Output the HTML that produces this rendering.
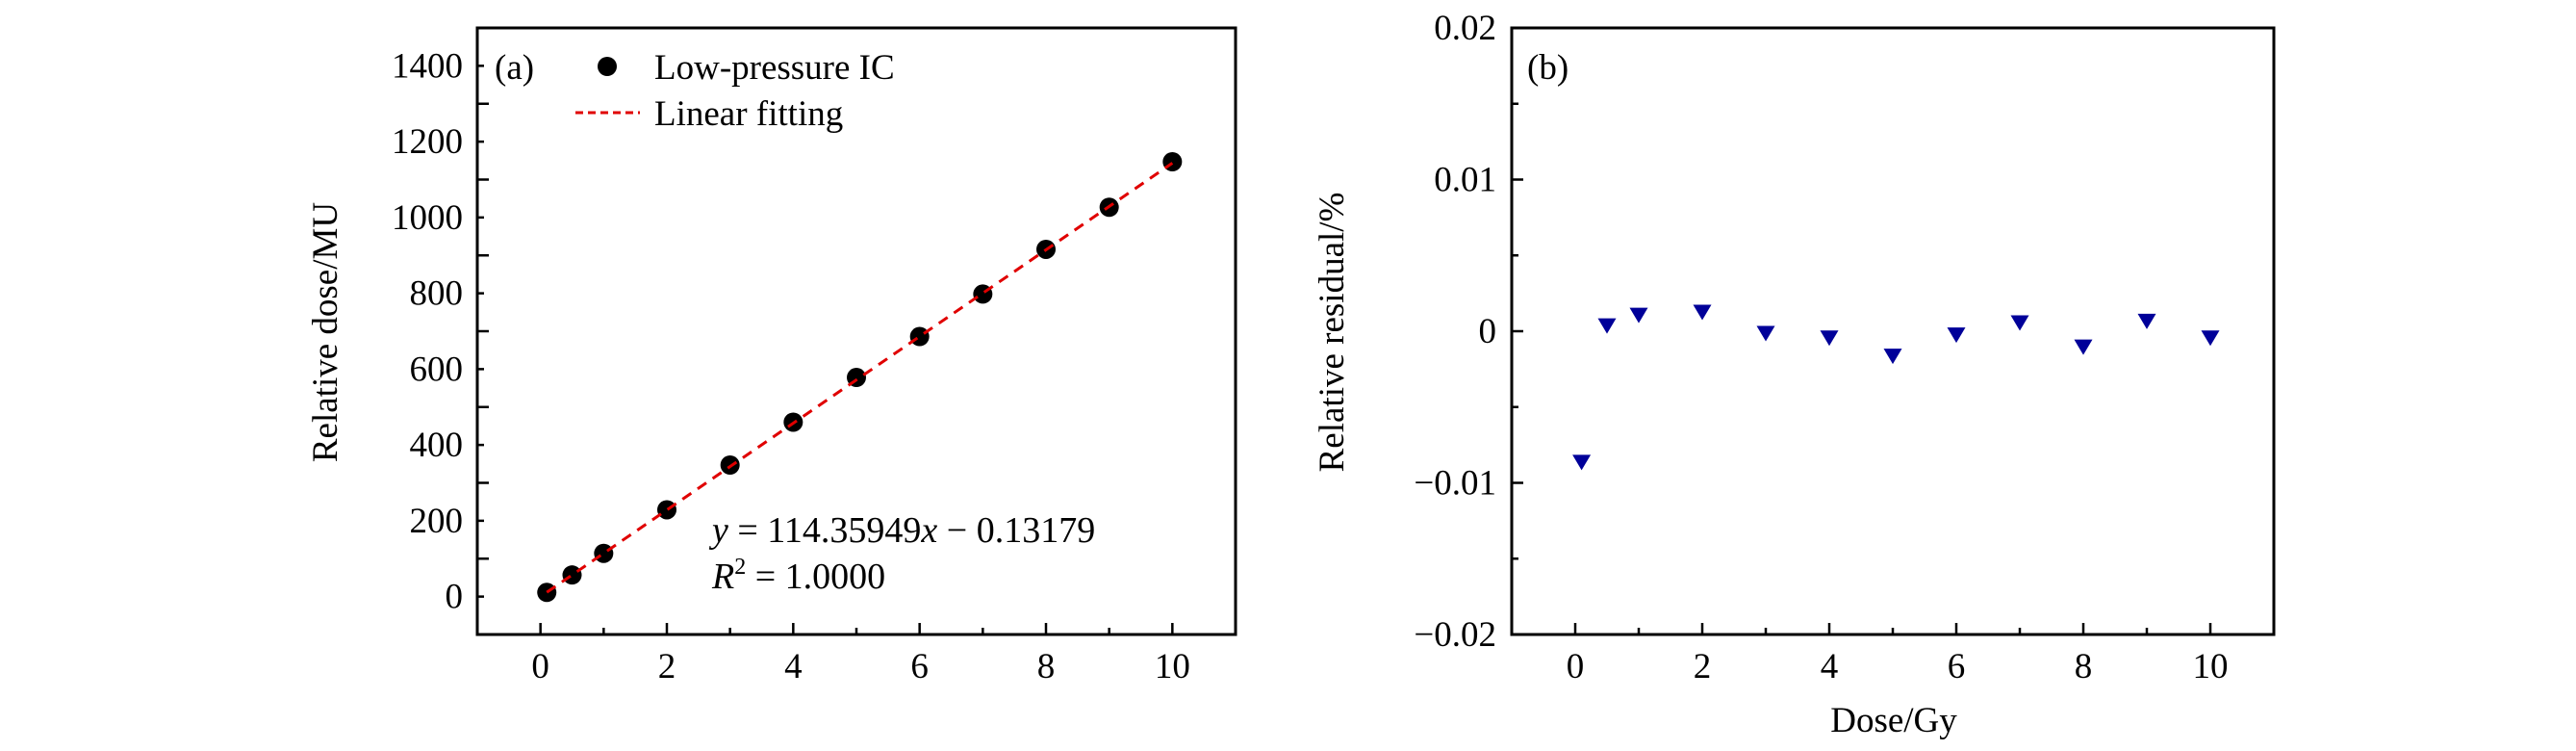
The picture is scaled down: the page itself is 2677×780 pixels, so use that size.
<!DOCTYPE html>
<html><head><meta charset="utf-8"><style>
html,body{margin:0;padding:0;background:#fff;}
svg{display:block;}
text{font-family:"Liberation Serif",serif;fill:#000;}
</style></head><body>
<svg id="chart" width="2677" height="780" viewBox="0 0 2677 780" xmlns="http://www.w3.org/2000/svg">
<g id="pa"></g>
<g id="pb"></g>
</svg>
<script>
const doseX = [0.1,0.5,1,2,3,4,5,6,7,8,9,10];
const relDose = [11,57,114,229,347,460,578,686,798,916,1027,1147];
const residual = [-0.0085,0.0005,0.0012,0.0014,0.0000,-0.0003,-0.0015,-0.0001,0.0007,-0.0009,0.0008,-0.0003];
const fitSlope = 114.35949;
const fitIntercept = -0.13179;
const xTicks = [0,2,4,6,8,10];
const aYTicks = [0,200,400,600,800,1000,1200,1400];
const bYTicks = [-0.02,-0.01,0,0.01,0.02];
const bYLabels = ["\u22120.02","\u22120.01","0","0.01","0.02"];

const NS="http://www.w3.org/2000/svg";
function mk(parent,tag,attrs,txt){const e=document.createElementNS(NS,tag);for(const k in attrs)e.setAttribute(k,attrs[k]);if(txt!==undefined)e.textContent=txt;parent.appendChild(e);return e;}

const yTop=29,yBot=659;
const FS=37;
function xA(v){return 496+(v+1)*(1284-496)/12;}
function yA(v){return yBot-(v+100)*(yBot-yTop)/1600;}
function xB(v){return 1571+(v+1)*(2363-1571)/12;}
function yB(v){return yBot-(v+0.02)*(yBot-yTop)/0.04;}

function axes(g,x0,x1,xs,ys,yTicksMaj,yMinStep,yMin,yMax,yLabels,labelRight){
  let e=mk(g,'rect',{x:x0,y:yTop,width:x1-x0,height:yBot-yTop,fill:'none',stroke:'#000','stroke-width':3});
  
  for(let v=0;v<=10;v++){
    const maj=v%2===0;
    e=mk(g,'line',{x1:xs(v),x2:xs(v),y1:yBot,y2:yBot-(maj?12:7),stroke:'#000','stroke-width':2.5});
    
  }
  xTicks.forEach(v=>{e=mk(g,'text',{x:xs(v),y:704,'font-size':FS,'text-anchor':'middle'},String(v));
    });
  const n=Math.round((yMax-yMin)/yMinStep);
  for(let i=0;i<=n;i++){
    const v=yMin+i*yMinStep;const maj=i%2===0;
    e=mk(g,'line',{x1:x0,x2:x0+(maj?12:7),y1:ys(v),y2:ys(v),stroke:'#000','stroke-width':2.5});
    
  }
  yTicksMaj.forEach((v,i)=>{e=mk(g,'text',{x:labelRight,y:ys(v)+12,'font-size':FS,'text-anchor':'end'},yLabels[i]);
    });
}

const ga=document.getElementById('pa');
axes(ga,496,1284,xA,yA,aYTicks,100,-100,1500,aYTicks.map(String),481);
let t=mk(ga,'text',{x:0,y:0,'font-size':FS,'text-anchor':'middle',transform:'translate(350,345) rotate(-90)'},'Relative dose/MU');

doseX.forEach((x,i)=>{const c=mk(ga,'circle',{cx:xA(x),cy:yA(relDose[i]),r:10,fill:'#000'});
  });
t=mk(ga,'line',{x1:xA(doseX[0]),y1:yA(fitSlope*doseX[0]+fitIntercept),x2:xA(10),y2:yA(fitSlope*10+fitIntercept),stroke:'#e00000','stroke-width':3,'stroke-dasharray':'11 8'});

t=mk(ga,'text',{x:514,y:82,'font-size':FS},'(a)');
t=mk(ga,'circle',{cx:631,cy:69,r:10,fill:'#000'});
t=mk(ga,'text',{x:680,y:82,'font-size':FS},'Low-pressure IC');
t=mk(ga,'line',{x1:598,x2:665,y1:117,y2:117,stroke:'#e00000','stroke-width':3,'stroke-dasharray':'8 5'});
t=mk(ga,'text',{x:680,y:130,'font-size':FS},'Linear fitting');
t=mk(ga,'text',{x:740,y:563,'font-size':38},'');
t.innerHTML='<tspan font-style="italic">y</tspan> = 114.35949<tspan font-style="italic">x</tspan> \u2212 0.13179';
t=mk(ga,'text',{x:740,y:611,'font-size':38},'');
t.innerHTML='<tspan font-style="italic">R</tspan><tspan font-size="24" dy="-15">2</tspan><tspan dy="15"> = 1.0000</tspan>';

const gb=document.getElementById('pb');
axes(gb,1571,2363,xB,yB,bYTicks,0.005,-0.02,0.02,bYLabels,1555);
t=mk(gb,'text',{x:0,y:0,'font-size':FS,'text-anchor':'middle',transform:'translate(1396,345) rotate(-90)'},'Relative residual/%');

t=mk(gb,'text',{x:1968,y:760,'font-size':FS,'text-anchor':'middle'},'Dose/Gy');

t=mk(gb,'text',{x:1587,y:82,'font-size':FS},'(b)');
doseX.forEach((x,i)=>{const cx=xB(x),cy=yB(residual[i]);
  const p=mk(gb,'polygon',{points:`${cx-9.5},${cy-5.5} ${cx+9.5},${cy-5.5} ${cx},${cy+10.5}`,fill:'#000099'});
  });
</script>
</body></html>
